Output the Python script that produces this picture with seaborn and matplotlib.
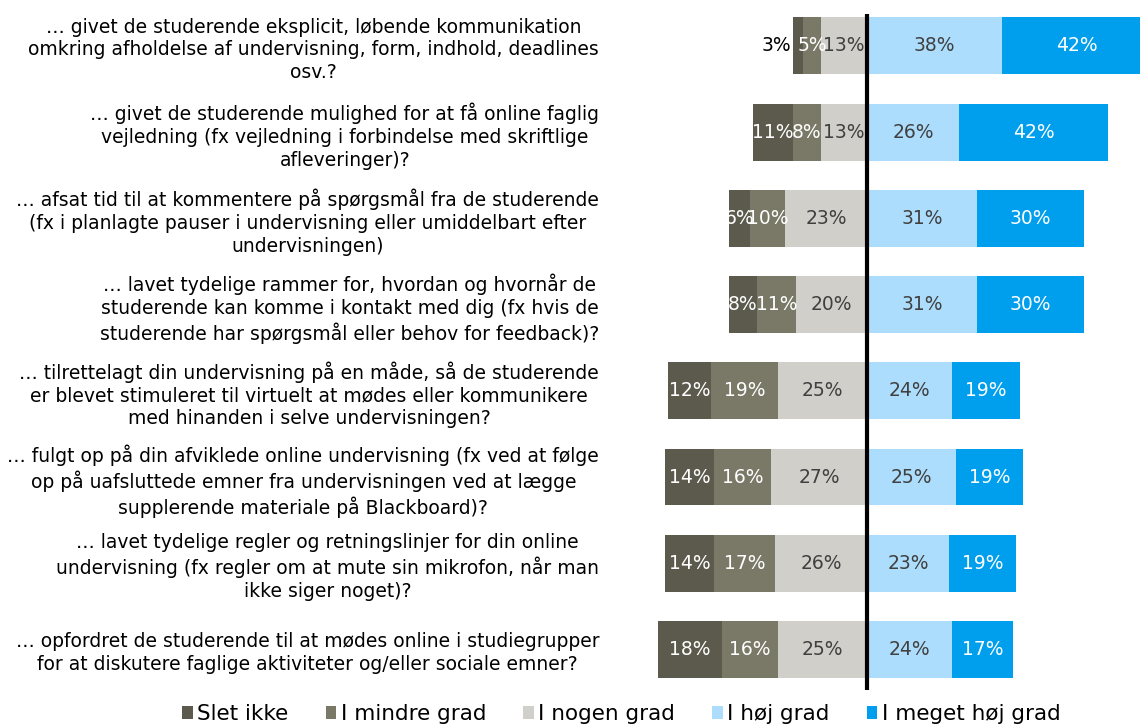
import numpy as np
import pandas as pd
import matplotlib
matplotlib.use("Agg")
import matplotlib.pyplot as plt
import seaborn as sns
from matplotlib.patches import Patch

questions = [
    "… givet de studerende eksplicit, løbende kommunikation\nomkring afholdelse af undervisning, form, indhold, deadlines\nosv.?",
    "… givet de studerende mulighed for at få online faglig\nvejledning (fx vejledning i forbindelse med skriftlige\nafleveringer)?",
    "… afsat tid til at kommentere på spørgsmål fra de studerende\n(fx i planlagte pauser i undervisning eller umiddelbart efter\nundervisningen)",
    "… lavet tydelige rammer for, hvordan og hvornår de\nstuderende kan komme i kontakt med dig (fx hvis de\nstuderende har spørgsmål eller behov for feedback)?",
    "… tilrettelagt din undervisning på en måde, så de studerende\ner blevet stimuleret til virtuelt at mødes eller kommunikere\nmed hinanden i selve undervisningen?",
    "… fulgt op på din afviklede online undervisning (fx ved at følge\nop på uafsluttede emner fra undervisningen ved at lægge\nsupplerende materiale på Blackboard)?",
    "… lavet tydelige regler og retningslinjer for din online\nundervisning (fx regler om at mute sin mikrofon, når man\nikke siger noget)?",
    "… opfordret de studerende til at mødes online i studiegrupper\nfor at diskutere faglige aktiviteter og/eller sociale emner?",
]
categories = ["Slet ikke", "I mindre grad", "I nogen grad", "I høj grad", "I meget høj grad"]
slet_ikke = [3, 11, 6, 8, 12, 14, 14, 18]
mindre_grad = [5, 8, 10, 11, 19, 16, 17, 16]
nogen_grad = [13, 13, 23, 20, 25, 27, 26, 25]
hoej_grad = [38, 26, 31, 31, 24, 25, 23, 24]
meget_hoej_grad = [42, 42, 30, 30, 19, 19, 19, 17]

colors = ["#5C5A4D", "#7A7866", "#D0CFC9", "#ADDDFC", "#009FEE"]
text_colors = ["white", "white", "#404040", "#404040", "white"]

df = pd.DataFrame({
    "q": questions,
    "slet": slet_ikke, "mindre": mindre_grad, "nogen": nogen_grad,
    "hoej": hoej_grad, "meget": meget_hoej_grad,
})
# cumulative extents (drawn from 0, overlapping; widest first)
df["L3"] = -(df.slet + df.mindre + df.nogen)
df["L2"] = -(df.mindre + df.nogen)
df["L1"] = -df.nogen
df["R2"] = df.hoej + df.meget
df["R1"] = df.hoej

sns.set_theme(style="white")
plt.rcParams["font.family"] = ["DejaVu Sans"]
plt.rcParams["text.color"] = "black"

fig = plt.figure(figsize=(11.4, 7.26), dpi=100)
ax = fig.add_axes([0.5439, 0.0496, 0.4561, 0.9311])

order = [("L3", 0), ("L2", 1), ("L1", 2), ("R2", 4), ("R1", 3)]
for col, ci in order:
    sns.barplot(data=df, x=col, y="q", orient="h", color=colors[ci],
                saturation=1, width=0.66, ax=ax, linewidth=0, order=questions)

ax.axvline(0, color="black", lw=3, zorder=5)

# value labels
vals = np.array([slet_ikke, mindre_grad, nogen_grad, hoej_grad, meget_hoej_grad], dtype=float)
for i in range(len(questions)):
    s, m, n, h, mh = vals[:, i]
    lefts = [-(s + m + n), -(m + n), -n, 0, h]
    widths = [s, m, n, h, mh]
    for k in range(5):
        v = widths[k]
        if k == 0 and v <= 3:
            ax.text(lefts[k] - 0.3, i, f"{int(v)}%", ha="right", va="center",
                    fontsize=13.5, color="black", zorder=6)
        else:
            ax.text(lefts[k] + v / 2, i, f"{int(v)}%", ha="center", va="center",
                    fontsize=13.5, color=text_colors[k], zorder=6)

ax.set_xlim(-69.6, 76.9)
ax.set_ylim(7.47, -0.37)
ax.set_xlabel("")
ax.set_ylabel("")
ax.set_xticks([])
ax.set_yticks(range(len(questions)))
ax.set_yticklabels(questions, fontsize=13.5, ha="right", multialignment="center",
                   linespacing=1.25, color="black")
ax.tick_params(axis="y", length=0, pad=15)
for sp in ax.spines.values():
    sp.set_visible(False)

handles = [Patch(facecolor=c, edgecolor="none") for c in colors]
leg = fig.legend(handles, categories, loc="center", bbox_to_anchor=(0.545, 0.0165),
                 ncol=5, frameon=False, fontsize=15.5, handlelength=0.5,
                 handleheight=0.5, handletextpad=0.2, columnspacing=1.72)
for t in leg.get_texts():
    t.set_color("black")

fig.savefig("out.png", dpi=100)
